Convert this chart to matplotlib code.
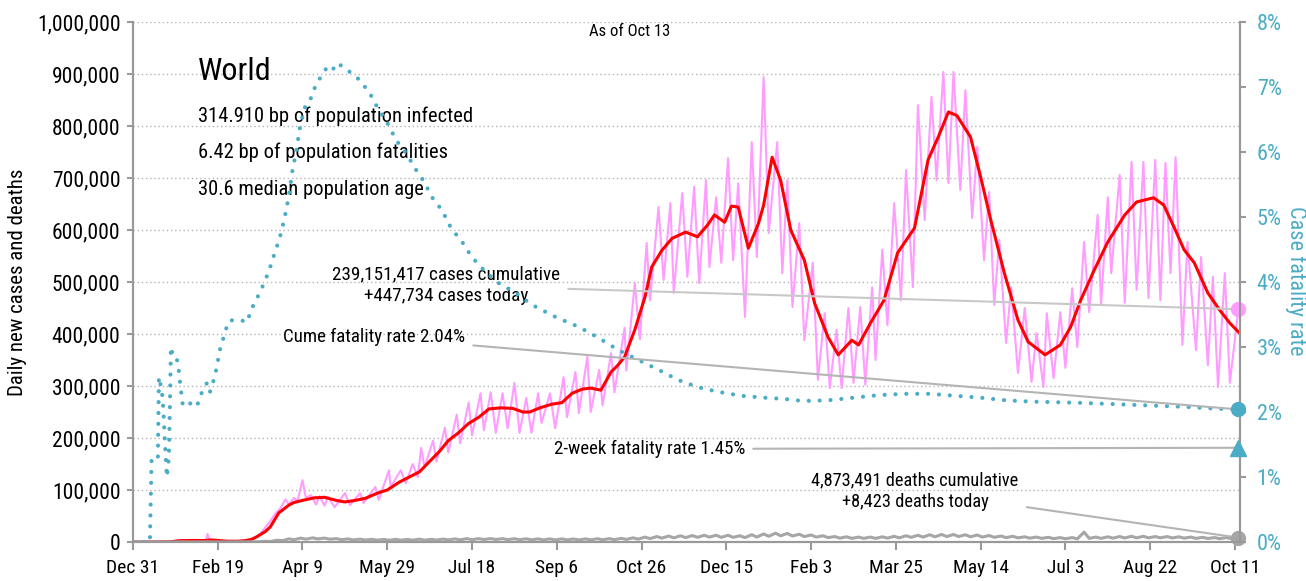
import numpy as np
import matplotlib
matplotlib.use("Agg")
import matplotlib.pyplot as plt
import matplotlib.dates as mdates
from datetime import datetime

plt.rcParams['font.family'] = ['Roboto Condensed', 'DejaVu Sans']
plt.rcParams['font.stretch'] = 'condensed'

# days counted from Dec 31 2019
pink_day = [0, 10, 20, 24, 28, 32, 36, 40, 43, 44, 45, 49, 53, 57, 61, 65, 69, 72, 75, 78,
            81, 84, 87, 90, 92, 95, 97, 100, 102, 105, 108, 110, 113, 115, 119, 125, 128, 134, 136, 143,
            145, 151, 152, 158, 161, 165, 168, 170, 172, 177, 179, 184, 186, 191, 193, 198, 200, 205, 207, 211,
            214, 218, 221, 225, 228, 232, 235, 239, 241, 246, 249, 254, 256, 261, 263, 268, 270, 275, 277, 282,
            284, 290, 291, 296, 299, 303, 305, 310, 313, 317, 319, 324, 327, 331, 334, 338, 340, 344, 347, 351,
            354, 357, 361, 365, 368, 372, 375, 380, 383, 386, 389, 393, 396, 401, 404, 408, 411, 415, 418, 422,
            425, 429, 432, 436, 438, 442, 445, 449, 453, 456, 460, 463, 467, 471, 474, 478, 481, 484, 488, 491,
            495, 498, 502, 505, 508, 511, 515, 518, 522, 526, 530, 533, 537, 539, 543, 547, 550, 554, 557, 561,
            564, 569, 571, 575, 577, 582, 585, 589, 592, 596, 599, 603, 606, 609, 612, 615, 619, 622, 627, 630,
            634, 637, 640, 644, 647, 652]
pink_val = [0, 50, 600, 2000, 3500, 3800, 3500, 2800, 2200, 15500, 5000, 2000, 1000, 1500, 1800, 3000, 5000, 9000, 15000, 28000,
            40000, 55000, 65000, 82000, 72000, 85000, 78000, 119000, 85000, 90000, 72000, 88000, 70000, 87000, 67000, 94000, 71000, 94000, 75000, 106000,
            81000, 138000, 106000, 138000, 113000, 150000, 125000, 181000, 144000, 195000, 155000, 220000, 172000, 245000, 190000, 268000, 205000, 286000, 215000, 288000,
            210000, 286000, 219000, 306000, 210000, 277000, 210000, 286000, 229000, 286000, 219000, 317000, 240000, 327000, 248000, 356000, 250000, 331000, 263000, 363000,
            288000, 412000, 330000, 498000, 390000, 575000, 465000, 644000, 504000, 652000, 479000, 671000, 510000, 683000, 498000, 696000, 529000, 663000, 537000, 738000,
            542000, 690000, 433000, 769000, 548000, 894000, 594000, 769000, 517000, 696000, 452000, 613000, 388000, 537000, 312000, 440000, 296000, 408000, 296000, 450000,
            306000, 452000, 302000, 490000, 350000, 562000, 417000, 652000, 465000, 715000, 490000, 840000, 619000, 856000, 696000, 904000, 690000, 904000, 677000, 869000,
            623000, 760000, 542000, 673000, 456000, 581000, 383000, 490000, 325000, 450000, 308000, 402000, 298000, 440000, 315000, 442000, 335000, 488000, 375000, 577000,
            442000, 629000, 456000, 663000, 517000, 706000, 460000, 731000, 485000, 731000, 469000, 735000, 465000, 729000, 517000, 740000, 379000, 577000, 369000, 548000,
            340000, 510000, 298000, 517000, 306000, 447734]

red_day = [0, 15, 22, 28, 35, 42, 46, 50, 56, 62, 66, 70, 73, 78, 81, 86, 92, 95, 100, 107,
           113, 120, 125, 131, 137, 145, 150, 157, 163, 169, 175, 181, 186, 192, 198, 204, 210, 217, 224, 230,
           234, 240, 247, 253, 259, 265, 270, 276, 282, 286, 290, 296, 302, 306, 312, 318, 326, 333, 339, 343,
           349, 353, 357, 363, 369, 372, 377, 382, 388, 396, 402, 410, 416, 424, 428, 435, 443, 451, 461, 469,
           475, 481, 486, 494, 500, 506, 514, 522, 528, 538, 547, 553, 559, 567, 575, 585, 592, 602, 608, 614,
           620, 626, 634, 641, 647, 652]
red_val = [0, 100, 500, 2500, 3000, 2800, 4000, 3000, 1500, 1500, 2500, 5000, 10000, 20000, 29000, 56000, 71000, 76000, 80000, 85000,
           86000, 80000, 77000, 80000, 84000, 95000, 100000, 115000, 125000, 135000, 155000, 175000, 195000, 210000, 228000, 240000, 256000, 258000, 257000, 250000,
           250000, 258000, 265000, 268000, 286000, 294000, 296000, 292000, 327000, 340000, 356000, 408000, 471000, 529000, 561000, 584000, 596000, 587000, 610000, 629000,
           615000, 646000, 644000, 565000, 613000, 648000, 740000, 696000, 600000, 542000, 460000, 394000, 360000, 388000, 379000, 421000, 465000, 556000, 604000, 735000,
           779000, 827000, 820000, 779000, 702000, 619000, 517000, 427000, 385000, 360000, 379000, 413000, 465000, 523000, 577000, 629000, 654000, 662000, 648000, 606000,
           562000, 537000, 479000, 446000, 421000, 404000]

# weekly deaths, high and low day of each week starting Mar 3 2020
death_hi = [300, 600, 1500, 3500, 6000, 7500, 8000, 7500, 6500, 6000, 5500, 5200, 5000, 5200, 5000, 5500, 5200, 5600, 6000, 6500,
            6500, 6600, 6500, 6300, 6200, 6000, 6000, 6000, 5800, 6000, 6300, 6500, 7000, 8000, 9500, 10500, 11500, 12000, 12500, 13000,
            13000, 13000, 12000, 14000, 15500, 17000, 16500, 15000, 13500, 12000, 10500, 10000, 9500, 9500, 10000, 11000, 12000, 13000, 14000, 14500,
            14500, 14000, 13500, 12500, 11500, 11000, 10000, 9500, 9000, 8500, 8500, 19000, 9500, 10000, 10500, 11000, 11000, 10500, 10500, 10000,
            9500, 9000, 8500, 8500]
death_lo = [200, 400, 1000, 2500, 4500, 5500, 6000, 5500, 4500, 4000, 3800, 3500, 3300, 3500, 3500, 3600, 3800, 4000, 4200, 4500,
            4800, 4800, 4600, 4500, 4300, 4200, 4000, 4200, 4000, 4200, 4300, 4500, 5000, 5500, 6500, 7500, 8000, 8500, 9000, 9500,
            9000, 9000, 8500, 9500, 11000, 12000, 11500, 10500, 9500, 8500, 7500, 7000, 7000, 7000, 7500, 8000, 9000, 9500, 10000, 10500,
            10500, 10000, 9500, 9000, 8500, 8000, 7500, 7000, 6500, 6300, 6000, 7000, 7000, 7500, 7800, 8000, 8000, 8000, 7800, 7500,
            7000, 6800, 6500, 6300]
death_early = [0, 0, 20, 40, 60, 90, 100, 200]
death_early_day = [0, 10, 20, 30, 40, 45, 50, 60]
deaths_today = 8423

cfr_day = [0, 5, 10, 11, 14.7, 15.3, 16.5, 17.6, 18.8, 20, 21.2, 21.8, 22.4, 23.5, 24.7, 26.5, 27.6, 29.4, 32.4, 37.6,
           40.6, 43.5, 45.3, 47.1, 49.4, 51.2, 55.3, 57.1, 64.1, 67.1, 70.6, 74.7, 77.6, 80.6, 83.5, 86.5, 89.4, 91.8, 94.1, 96.5,
           98.2, 101.2, 104.1, 107.1, 111.2, 114.7, 117.6, 120.6, 126.5, 132.4, 139.4, 144.1, 150, 155.3, 161.2, 167.1, 171.8, 176.5, 182.4, 187.6,
           194.1, 200, 208.2, 215.9, 225.9, 235.3, 249.4, 262.9, 274.7, 286.5, 298.2, 310, 321.8, 333.5, 345.3, 358.8, 372.9, 384.7, 395, 410,
           425, 440, 455, 470, 485, 500, 515, 530, 545, 560, 580, 600, 620, 640, 652]
cfr_val = [0, 0, 0, 1.3, 1.3, 2.54, 2.4, 2.2, 1.57, 1.0, 1.3, 2.1, 3.0, 2.87, 2.87, 2.77, 2.49, 2.1, 2.15, 2.08,
           2.3, 2.44, 2.3, 2.44, 2.68, 2.95, 3.31, 3.41, 3.41, 3.38, 3.62, 3.83, 4.0, 4.2, 4.44, 4.67, 4.98, 5.3, 5.72, 6.03,
           6.34, 6.68, 6.77, 6.98, 7.18, 7.31, 7.26, 7.37, 7.26, 7.14, 6.92, 6.69, 6.45, 6.18, 5.98, 5.72, 5.54, 5.3, 5.1, 4.83,
           4.62, 4.38, 4.15, 3.98, 3.83, 3.65, 3.46, 3.31, 3.14, 2.95, 2.8, 2.65, 2.49, 2.38, 2.31, 2.25, 2.22, 2.2, 2.17, 2.18,
           2.22, 2.26, 2.28, 2.28, 2.25, 2.22, 2.18, 2.16, 2.15, 2.14, 2.12, 2.1, 2.08, 2.05, 2.04]
cfr_2week = 1.45

stats = ["314.910 bp of population infected", "6.42 bp of population fatalities", "30.6 median population age"]

PINK = "#ff9cff"
RED = "#ff0000"
BLUE = "#4bacc6"
GRAY = "#a6a6a6"

base = mdates.date2num(datetime(2019, 12, 31))
last = base + 652

# deaths series from weekly high/low values
wk = base + 63 + 7 * np.arange(len(death_hi))
d_x = np.concatenate([base + np.array(death_early_day), np.ravel(np.column_stack([wk + 1, wk + 4]))])
d_y = np.concatenate([death_early, np.ravel(np.column_stack([death_hi, death_lo]))])
d_x = np.append(d_x, last)
d_y = np.append(d_y, deaths_today)

fig = plt.figure(figsize=(13.06, 5.81), dpi=100)
ax = fig.add_axes([0.1018, 0.0671, 0.8477, 0.895])
ax2 = ax.twinx()

ax.plot(base + np.array(pink_day), pink_val, color=PINK, lw=1.5, zorder=2)
ax.plot(base + np.array(red_day), red_val, color=RED, lw=2.2, zorder=3)
ax.plot(d_x, d_y, color=GRAY, lw=2.2, zorder=3)
ax2.plot(base + np.array(cfr_day), cfr_val, color=BLUE, lw=3, ls=(0, (0.01, 2.6)),
         dash_capstyle='round', zorder=2)

ax.plot([last], [pink_val[-1]], 'o', color=PINK, ms=10, clip_on=False, zorder=5)
ax.plot([last], [deaths_today], 'o', color=GRAY, ms=10, clip_on=False, zorder=5)
ax2.plot([last], [cfr_val[-1]], 'o', color=BLUE, ms=10, clip_on=False, zorder=5)
ax2.plot([last], [cfr_2week], '^', color=BLUE, ms=11, clip_on=False, zorder=5)

ax.set_xlim(base, last + 1)
ax.set_ylim(0, 1000000)
ax2.set_ylim(0, 8)

ticks = base + np.arange(0, 651, 50)
ax.set_xticks(ticks)
ax.set_xticklabels([mdates.num2date(t).strftime('%b ') + str(mdates.num2date(t).day) for t in ticks])
ax.set_yticks(np.arange(0, 1000001, 100000))
ax.set_yticklabels([f"{v:,}" for v in range(0, 1000001, 100000)])
ax2.set_yticks(range(0, 9))
ax2.set_yticklabels([f"{v}%" for v in range(0, 9)])

ax.grid(axis='y', color='#b4b4b4', ls=(0, (1, 2)), lw=1)
ax.set_axisbelow(True)

for a in (ax, ax2):
    a.spines['top'].set_visible(False)
    for s in ('left', 'right', 'bottom'):
        a.spines[s].set_color('#999999')
        a.spines[s].set_linewidth(1.5)
ax.tick_params(axis='x', length=6, width=1.5, color='#999999', labelsize=14, pad=6)
ax.tick_params(axis='y', length=4, width=1.5, color='#999999', labelsize=15.5, pad=5)
ax2.tick_params(axis='y', length=4, width=1.5, color='#999999', labelsize=16, pad=8, labelcolor=BLUE)

fig.text(18 / 1306, 1 - 282 / 581, "Daily new cases and deaths", rotation=90, ha='center', va='center', fontsize=15)
fig.text(1296 / 1306, 1 - 281 / 581, "Case fatality rate", rotation=270, ha='center', va='center', fontsize=16, color=BLUE)

ax.text(0.449, 0.981, "As of Oct 13", transform=ax.transAxes, ha='center', va='center', fontsize=12)
ax.text(0.0587, 0.904, "World", transform=ax.transAxes, ha='left', va='center', fontsize=23)
for i, s in enumerate(stats):
    ax.text(0.0587, [0.819, 0.75, 0.677][i], s, transform=ax.transAxes, ha='left', va='center', fontsize=14.8)

line = dict(arrowstyle='-', color='#c8c8c8', lw=1.5, shrinkA=4, shrinkB=0)
ax.annotate("239,151,417 cases cumulative\n+447,734 cases today", xy=(last, pink_val[-1]),
            xytext=(0.2827, 0.494), textcoords='axes fraction', ha='center', va='center',
            fontsize=13.8, linespacing=1.3, arrowprops=line, zorder=4)
ax2.annotate("Cume fatality rate 2.04%", xy=(last, cfr_val[-1]),
             xytext=(0.2999, 0.394), textcoords='axes fraction', ha='right', va='center',
             fontsize=13.6, arrowprops=dict(line, color='#b4b4b4'), zorder=4)
ax2.annotate("2-week fatality rate 1.45%", xy=(last, cfr_2week),
             xytext=(0.5528, 0.179), textcoords='axes fraction', ha='right', va='center',
             fontsize=13.6, arrowprops=dict(line, color='#b4b4b4'), zorder=4)
ax.annotate("4,873,491 deaths cumulative\n+8,423 deaths today", xy=(last, deaths_today),
            xytext=(0.7064, 0.098), textcoords='axes fraction', ha='center', va='center',
            fontsize=13.2, linespacing=1.3, arrowprops=dict(line, color='#b4b4b4'), zorder=4)

fig.savefig("out.png", dpi=100)
